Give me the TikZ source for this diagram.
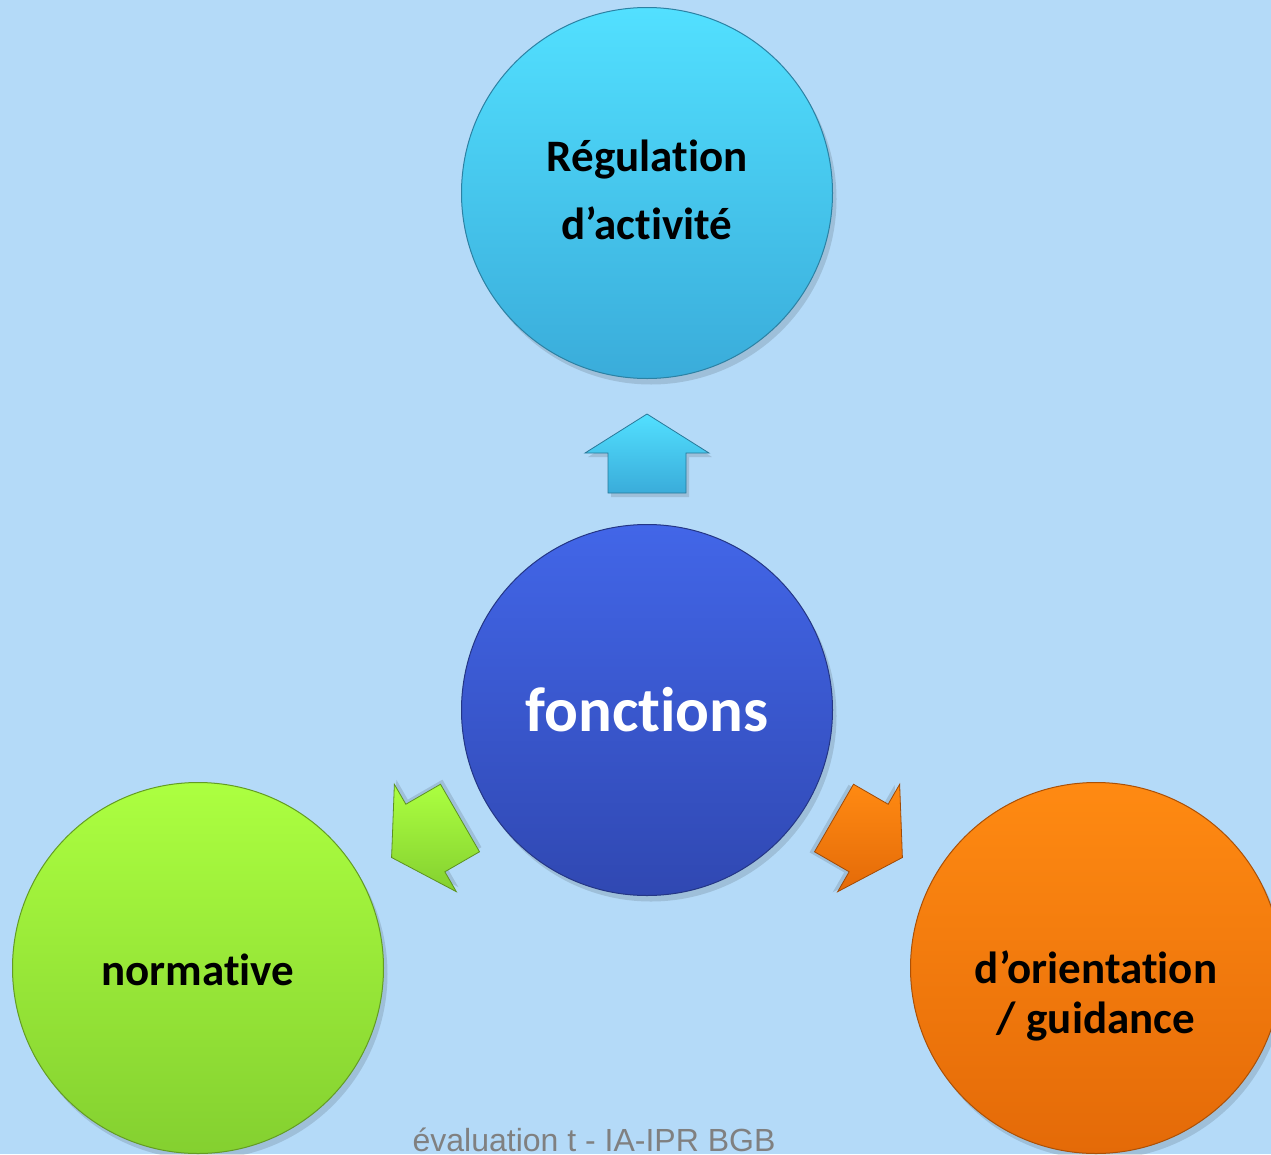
\documentclass[tikz,border=0pt]{standalone}
\usepackage{fontspec}
\setmainfont{Carlito}[Ligatures={NoCommon,NoContextual}]
\newfontfamily\arialf{Liberation Sans}
\definecolor{bg}{RGB}{180,218,248}
\definecolor{cyanT}{RGB}{82,224,255}
\definecolor{cyanB}{RGB}{58,172,218}
\definecolor{blueT}{RGB}{66,102,232}
\definecolor{blueB}{RGB}{48,72,178}
\definecolor{greenT}{RGB}{172,255,64}
\definecolor{greenB}{RGB}{132,208,48}
\definecolor{orT}{RGB}{255,138,18}
\definecolor{orB}{RGB}{228,106,8}
\definecolor{footgray}{RGB}{128,128,128}
\tikzset{
  ball/.style n args={2}{circle, minimum size=371pt, inner sep=0pt, top color=#1, bottom color=#2, draw=#2!75!black, line width=1pt},
  shadowball/.style={circle, minimum size=371pt, inner sep=0pt, fill=black, opacity=0.12},
  lbl/.style={font=\bfseries\fontsize{45}{68}\selectfont, align=center, text=black},
  arr/.style n args={2}{top color=#1, bottom color=#2, draw=#2!70!black, line width=0.8pt, line join=miter},
}
\newcommand{\arrowshape}{(0,-39) -- (40,-39) -- (40,-62) -- (79,0) -- (40,62) -- (40,39) -- (0,39) -- cycle}
\begin{document}
\begin{tikzpicture}[x=1pt,y=-1pt]
\clip (0,0) rectangle (1271,1154);
\fill[bg] (0,0) rectangle (1271,1154);
% shadows
\node[shadowball] at (651,199) {};
\node[shadowball] at (651,716) {};
\node[shadowball] at (202,974) {};
\node[shadowball] at (1100,974) {};
% circles
\node[ball={cyanT}{cyanB}] (top) at (647,193) {};
\node[ball={blueT}{blueB}] (mid) at (647,710) {};
\node[ball={greenT}{greenB}] (left) at (198,968) {};
\node[ball={orT}{orB}] (right) at (1096,968) {};
% labels
\node[lbl] (toptxt) at (647,190) {Régulation\\d’activité};
\node[lbl, text=white, font=\bfseries\fontsize{63}{66}\selectfont] (midtxt) at (647,710) {fonctions};
\node[lbl] (lefttxt) at (198,970) {normative};
\node[lbl, font=\bfseries\fontsize{45}{50}\selectfont] (righttxt) at (1096,996) {d’orientation\\/ guidance};
% arrows
\begin{scope}[shift={(647,493)},rotate=90]
  \fill[black,opacity=0.12,xshift=-4pt,yshift=-3pt] \arrowshape;
  \draw[arr={cyanT}{cyanB}] \arrowshape;
\end{scope}
\begin{scope}[shift={(460,818)},rotate=210]
  \fill[black,opacity=0.12,xshift=-4pt,yshift=-3pt] \arrowshape;
  \draw[arr={greenT}{greenB}] \arrowshape;
\end{scope}
\begin{scope}[shift={(834,818)},rotate=-30]
  \fill[black,opacity=0.12,xshift=-4pt,yshift=-3pt] \arrowshape;
  \draw[arr={orT}{orB}] \arrowshape;
\end{scope}
% footer
\node[font=\arialf\fontsize{32}{34}\selectfont, text=footgray, anchor=base] (foot) at (594,1151) {évaluation t - IA-IPR BGB};
\end{tikzpicture}
\end{document}
